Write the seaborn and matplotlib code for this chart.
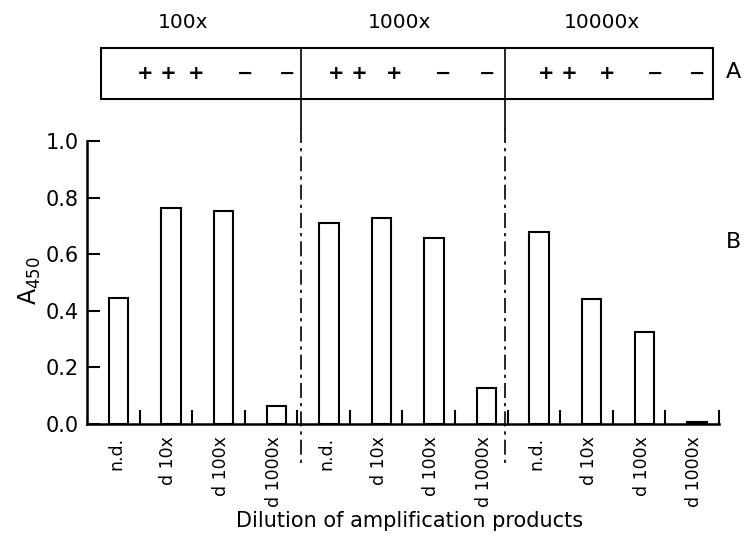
import numpy as np
import pandas as pd
import matplotlib
matplotlib.use("Agg")
import matplotlib.pyplot as plt
import matplotlib.transforms as mtransforms
from matplotlib.patches import Rectangle
import seaborn as sns

# ---- data ----
groups = ["100x", "1000x", "10000x"]
dilutions = ["n.d.", "d 10x", "d 100x", "d 1000x"]
a450_100x = [0.445, 0.763, 0.753, 0.062]
a450_1000x = [0.711, 0.728, 0.657, 0.127]
a450_10000x = [0.680, 0.443, 0.326, 0.008]
dot_100x = ["+ +", "+", "\u2212", "\u2212"]
dot_1000x = ["+ +", "+", "\u2212", "\u2212"]
dot_10000x = ["+ +", "+", "\u2212", "\u2212"]

values = a450_100x + a450_1000x + a450_10000x
labels = dilutions * 3
dots = dot_100x + dot_1000x + dot_10000x
df = pd.DataFrame({"pos": np.arange(len(values)), "A450": values, "label": labels})

sns.set_theme(style="white")
plt.rcParams["font.family"] = ["DejaVu Sans"]
plt.rcParams["text.color"] = "black"
plt.rcParams["axes.labelcolor"] = "black"
plt.rcParams["xtick.color"] = "black"
plt.rcParams["ytick.color"] = "black"

W, H = 745, 548
fig = plt.figure(figsize=(W / 100, H / 100), dpi=100)

def fx(px):
    return px / W

def fy(py):
    return 1 - py / H

ax = fig.add_axes([fx(87), fy(424), fx(719) - fx(87), fy(141) - fy(424)])
sns.barplot(data=df, x="pos", y="A450", native_scale=True, width=0.37,
            color="white", edgecolor="black", linewidth=1.5, ax=ax)
xmin, xmax = -0.6, 11.42
ax.set_xlim(xmin, xmax)
ax.set_ylim(0, 1.0)
for s in ["top", "right"]:
    ax.spines[s].set_visible(False)
for s in ["left", "bottom"]:
    ax.spines[s].set_linewidth(1.8)
    ax.spines[s].set_color("black")

ax.set_yticks([0.0, 0.2, 0.4, 0.6, 0.8, 1.0])
ax.set_yticklabels(["0.0", "0.2", "0.4", "0.6", "0.8", "1.0"], fontsize=15)
ax.tick_params(axis="y", direction="in", length=9.5, width=1.5, pad=6, colors="black", left=True)

ax.set_xticks(df["pos"] - 0.05)
ax.set_xticklabels(df["label"], rotation=90, fontsize=12.5, va="top")
ax.tick_params(axis="x", which="major", length=0, pad=9, colors="black")
minor = [i + 0.4 for i in range(11)] + [xmax - 0.005]
ax.set_xticks(minor, minor=True)
ax.tick_params(axis="x", which="minor", direction="in", length=10, width=1.5, bottom=True, colors="black")
ax.set_xlabel("")
ax.set_ylabel("")

# ---- top dot-blot box ----
axA = fig.add_axes([fx(87), fy(99), fx(719) - fx(87), fy(48) - fy(99)])
axA.set_xlim(xmin, xmax)
axA.set_ylim(0, 1)
axA.axis("off")
axA.add_patch(Rectangle((-0.33, 0), 11.30 + 0.33, 1, fill=False, edgecolor="black", lw=1.5, clip_on=False))
dividers = [3.47, 7.35]
for d in dividers:
    axA.plot([d, d], [0, 1], color="black", lw=1.2, clip_on=False)
dot_x = [0.72, 1.47, 2.40, 3.20, 4.36, 5.24, 6.17, 7.01, 8.35, 9.29, 10.20, 11.0]
for xpos, t in zip(dot_x, dots):
    axA.text(xpos, 0.5, t, ha="center", va="center", fontsize=14, fontweight="bold", color="black")

# divider lines below the box
tr = mtransforms.blended_transform_factory(ax.transData, fig.transFigure)
for d in dividers:
    ax.plot([d, d], [fy(99), fy(128)], color="black", lw=1.2, transform=tr, clip_on=False)
    ax.plot([d, d], [fy(128), fy(463)], color="black", lw=1.2, transform=tr, clip_on=False,
            linestyle=(0, (9, 3, 2, 3)))

# group titles
for xpix, g in zip([183, 400, 602], groups):
    fig.text(fx(xpix), fy(22), g, ha="center", va="center", fontsize=14.5, color="black")

fig.text(fx(733), fy(72), "A", ha="center", va="center", fontsize=16, color="black")
fig.text(fx(733), fy(242), "B", ha="center", va="center", fontsize=16, color="black")
fig.text(fx(30), fy(281), "A$_{450}$", rotation=90, ha="center", va="center", fontsize=17, color="black")
fig.text(fx(410), fy(521), "Dilution of amplification products", ha="center", va="center",
         fontsize=15, color="black")

fig.savefig("out.png", dpi=100, facecolor="white")
